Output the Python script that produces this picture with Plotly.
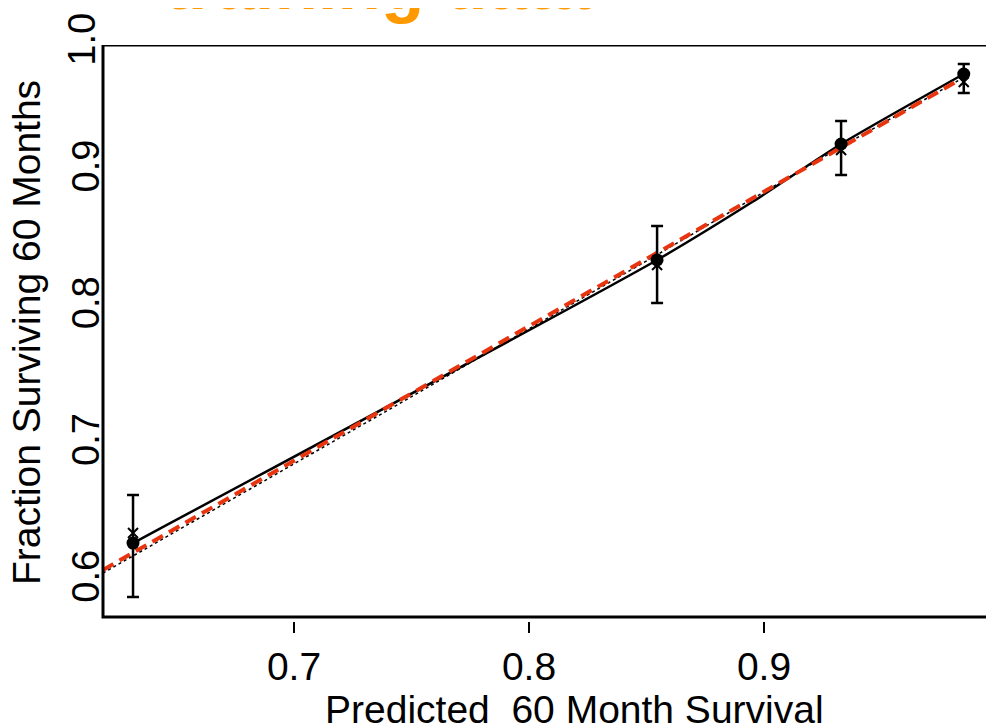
import plotly.graph_objects as go

# grouped calibration points (predicted vs observed 60 month survival)
PREDICTED = [0.6315, 0.8545, 0.9328, 0.985]
OBSERVED = [0.6285, 0.8355, 0.9203, 0.9715]
OBS_LOW = [0.589, 0.804, 0.8976, 0.9576]
OBS_HIGH = [0.6636, 0.8603, 0.9371, 0.9788]
CORRECTED = [0.6358, 0.8318, 0.9159, 0.9656]

# apparent curve through the points
APP_X = [0.6315, 0.8545, 0.8953, 0.9328, 0.985]
APP_Y = [0.6285, 0.8355, 0.8782, 0.9203, 0.9715]

# fitted line (red dashed) and the fine dotted reference
FIT_X = [0.6187, 0.986]
FIT_Y = [0.6088, 0.97]
DOT_X = [0.6187, 0.75, 0.8545, 0.93, 0.985]
DOT_Y = [0.6065, 0.7355, 0.8393, 0.9155, 0.969]

XTICKS = [0.7, 0.8, 0.9]
YTICKS = [0.6, 0.7, 0.8, 0.9]

FONT = "Liberation Sans"
RED = "#E8340F"
ORANGE = "#FF9900"

fig = go.Figure()

fig.add_trace(go.Scatter(x=APP_X, y=APP_Y, mode="lines",
                         line=dict(color="black", width=2.5,
                                   shape="spline", smoothing=0.6)))
fig.add_trace(go.Scatter(x=DOT_X, y=DOT_Y, mode="lines",
                         line=dict(color="black", width=1.5, dash="dot")))
fig.add_trace(go.Scatter(x=FIT_X, y=FIT_Y, mode="lines",
                         line=dict(color=RED, width=4, dash="12px,7px")))
fig.add_trace(go.Scatter(x=PREDICTED, y=CORRECTED, mode="markers",
                         marker=dict(symbol="x-thin-open", size=10, color="black",
                                     line=dict(color="black", width=2))))
fig.add_trace(go.Scatter(
    x=PREDICTED, y=OBSERVED, mode="markers",
    marker=dict(color="black", size=13),
    error_y=dict(type="data", symmetric=False,
                 array=[h - o for h, o in zip(OBS_HIGH, OBSERVED)],
                 arrayminus=[o - l for o, l in zip(OBSERVED, OBS_LOW)],
                 color="black", thickness=2.5, width=6),
))

# box: left, bottom and top only (right side runs off the picture)
fig.add_shape(type="rect", xref="paper", yref="y", x0=0, x1=1.05,
              y0=0.5744, y1=0.99269, line=dict(color="black", width=3))

annotations = [
    dict(text="1.0", x=0.002, y=1.0105, xref="paper", yref="paper",
         xanchor="right", yanchor="middle", textangle=-90, showarrow=False,
         font=dict(family=FONT, size=38, color="black")),
    dict(text="Fraction Surviving 60 Months", x=-0.0865, y=0.5017,
         xref="paper", yref="paper", xanchor="center", yanchor="middle",
         textangle=-90, showarrow=False,
         font=dict(family=FONT, size=39, color="black")),
    dict(text="Predicted\u00a0 60 Month Survival", x=0.5297, y=-0.153,
         xref="paper", yref="paper", xanchor="center", yanchor="middle",
         showarrow=False, font=dict(family=FONT, size=39, color="black")),
    dict(text="training data", x=(163 - 103) / 891, y=1.0347,
         xref="paper", yref="paper", xanchor="left", yanchor="bottom",
         showarrow=False, borderpad=0,
         font=dict(family=FONT, size=71, color=ORANGE, weight="bold")),
    dict(text="\u2022", x=(115 - 103) / 891, y=1.0347,
         xref="paper", yref="paper", xanchor="center", yanchor="bottom",
         showarrow=False, borderpad=0,
         font=dict(family=FONT, size=71, color=ORANGE, weight="bold")),
]

# the page body keeps its 8px margin, so the figure is 8px smaller each way
fig.update_layout(
    width=986, height=719,
    margin=dict(l=95, r=0, t=37, b=106, autoexpand=False),
    paper_bgcolor="white", plot_bgcolor="white",
    showlegend=False,
    annotations=annotations,
    font=dict(family=FONT, color="black"),
)
fig.update_xaxes(range=[0.61872, 0.99787], tickvals=XTICKS,
                 ticktext=[f"{v:.1f}" for v in XTICKS],
                 ticks="outside", ticklen=11, tickwidth=2, tickcolor="black",
                 ticklabelstandoff=0, automargin=False,
                 showgrid=False, zeroline=False, showline=False,
                 tickfont=dict(family=FONT, size=39, color="black"))
fig.update_yaxes(range=[0.57148, 0.99269], tickvals=YTICKS,
                 ticktext=[f"{v:.1f}" for v in YTICKS],
                 ticks="", tickangle=-90, ticklabelstandoff=-5, automargin=False,
                 showgrid=False, zeroline=False, showline=False,
                 tickfont=dict(family=FONT, size=38, color="black"))

fig.write_html("out.html")
